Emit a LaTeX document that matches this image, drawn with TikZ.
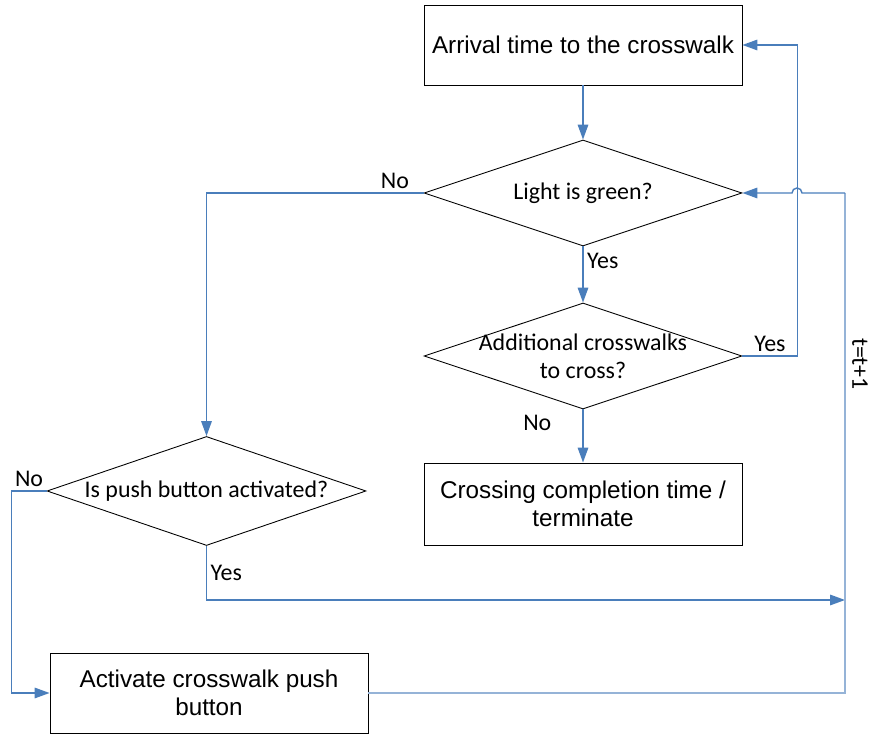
\documentclass[tikz,border=0pt]{standalone}
\usepackage{fontspec}
\setmainfont{Carlito}
\newfontfamily\boxfont{Liberation Sans}
\usetikzlibrary{shapes.geometric,arrows.meta,positioning}
\definecolor{flowblue}{HTML}{4A7EBB}
\definecolor{loopblue}{HTML}{95B3D7}

\begin{document}
\begin{tikzpicture}[
        stepbox/.style={draw=black, line width=0.5pt, minimum width=6.36cm, minimum height=1.6cm,
            align=center, inner sep=2pt, font=\boxfont\fontsize{13.8}{16}\selectfont},
        decision/.style={draw=black, line width=0.5pt, shape=diamond, minimum width=6.36cm,
            minimum height=2.12cm, inner sep=0pt},
        dtext/.style={font=\fontsize{13.6}{16}\selectfont, align=center},
        lbl/.style={font=\fontsize{13.6}{16}\selectfont, inner sep=2pt},
        flow/.style={draw=flowblue, line width=0.8pt, -{Triangle[length=8.5pt,width=6pt]}},
        wire/.style={draw=loopblue, line width=0.8pt}
    ]
                \useasboundingbox (0,0) rectangle (17.38,14.7);

                %% main column
                \node[stepbox] (arrive) at (11.66,13.8) {Arrival time to the crosswalk};
                \node[decision, label={[dtext]center:Light is green?}] (green) at (11.66,10.84) {};
                \node[decision, label={[dtext]center:{Additional crosswalks\\to cross?}}] (more) at (11.66,7.58) {};
                \node[stepbox, minimum height=1.64cm] (done) at (11.66,4.62) {Crossing completion time /\\terminate};

                %% left column
                \node[decision, minimum width=6.38cm, minimum height=2.18cm,
                    label={[dtext]center:Is push button activated?}] (button) at (4.13,4.88) {};
                \node[stepbox] (push) at (4.18,0.84) {Activate crosswalk push\\button};

                %% loop back
                \coordinate (tick) at (16.9,2.7);
                \coordinate (back) at (16.9,10.84);
                \node[lbl, rotate=-90] (tinc) at (17.2,7.42) {t=t+1};

                %Yes / No
                \draw[flow] (arrive.south) -- (green.north);
                \draw[flow] (green.south) -- node[lbl, right, pos=0.25] {Yes} (more.north);
                \draw[flow] (more.east) -- node[lbl, above] {Yes} ++(1.1,0) |- (arrive.east);
                \draw[flow] (more.south) -- node[lbl, left=0.55cm, pos=0.26] {No} (done.north);
                \draw[flow] (green.west) -| node[lbl, above, pos=0.066] {No} (button.north);
                \draw[flow] (button.south) |- node[lbl, right, pos=0.25] {Yes} (tick);
                \draw[flow] (button.west) -- node[lbl, above] {No} ++(-0.7,0) |- (push.west);

                %t=t+1
                \draw[wire] (push.east) -| (back);
                \draw[flow] (back) -- ++(-0.86,0) arc[start angle=0, end angle=180, radius=0.1] -- (green.east);

\end{tikzpicture}
\end{document}
